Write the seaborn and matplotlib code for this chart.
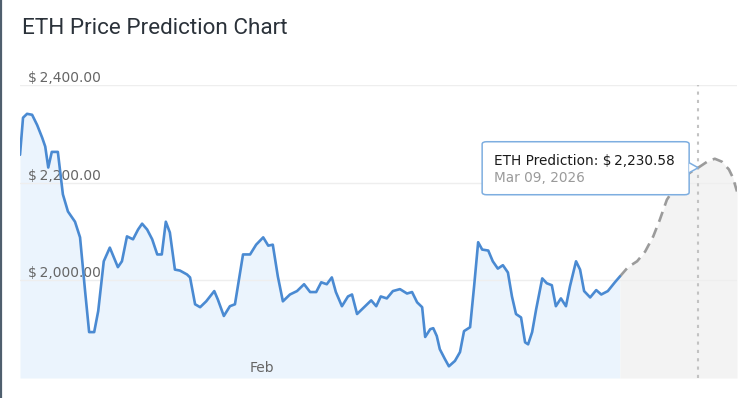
import matplotlib
matplotlib.use("Agg")
import matplotlib.pyplot as plt
import matplotlib.dates as mdates
from matplotlib.patches import FancyBboxPatch, Polygon
import pandas as pd
import seaborn as sns

# historical ETH price
hist_dates = [
    "2026-01-12 00:00", "2026-01-12 06:00", "2026-01-12 14:00", "2026-01-13 00:00",
    "2026-01-13 10:00", "2026-01-13 20:00", "2026-01-14 02:00", "2026-01-14 08:00",
    "2026-01-14 15:00", "2026-01-15 03:00", "2026-01-15 13:00", "2026-01-15 23:00",
    "2026-01-16 13:00", "2026-01-16 23:00", "2026-01-17 09:00", "2026-01-17 17:00",
    "2026-01-18 03:00", "2026-01-18 11:00", "2026-01-18 22:00", "2026-01-19 10:00",
    "2026-01-19 18:00", "2026-01-20 02:00", "2026-01-20 10:00", "2026-01-20 20:00",
    "2026-01-21 08:00", "2026-01-21 18:00", "2026-01-22 02:00", "2026-01-22 12:00",
    "2026-01-22 22:00", "2026-01-23 08:00", "2026-01-23 17:00", "2026-01-24 01:00",
    "2026-01-24 09:00", "2026-01-24 19:00", "2026-01-25 05:00", "2026-01-25 19:00",
    "2026-01-26 01:00", "2026-01-26 11:00", "2026-01-26 21:00", "2026-01-27 09:00",
    "2026-01-28 01:00", "2026-01-28 08:00", "2026-01-28 20:00", "2026-01-29 08:00",
    "2026-01-29 18:00", "2026-01-30 10:00", "2026-01-31 00:00", "2026-01-31 12:00",
    "2026-02-01 02:00", "2026-02-01 12:00", "2026-02-01 21:00", "2026-02-02 07:00",
    "2026-02-02 17:00", "2026-02-03 07:00", "2026-02-03 21:00", "2026-02-04 11:00",
    "2026-02-04 23:00", "2026-02-05 11:00", "2026-02-05 21:00", "2026-02-06 08:00",
    "2026-02-06 18:00", "2026-02-07 02:00", "2026-02-07 14:00", "2026-02-08 02:00",
    "2026-02-08 10:00", "2026-02-08 20:00", "2026-02-09 10:00", "2026-02-10 00:00",
    "2026-02-10 10:00", "2026-02-10 19:00", "2026-02-11 07:00", "2026-02-11 19:00",
    "2026-02-12 09:00", "2026-02-12 23:00", "2026-02-13 09:00", "2026-02-13 19:00",
    "2026-02-14 05:00", "2026-02-14 11:00", "2026-02-14 21:00", "2026-02-15 03:00",
    "2026-02-15 10:00", "2026-02-15 16:00", "2026-02-16 02:00", "2026-02-16 10:00",
    "2026-02-16 22:00", "2026-02-17 08:00", "2026-02-17 16:00", "2026-02-18 04:00",
    "2026-02-18 12:00", "2026-02-18 20:00", "2026-02-19 04:00", "2026-02-19 16:00",
    "2026-02-20 01:00", "2026-02-20 11:00", "2026-02-20 21:00", "2026-02-21 07:00",
    "2026-02-21 15:00", "2026-02-21 23:00", "2026-02-22 09:00", "2026-02-22 17:00",
    "2026-02-22 23:00", "2026-02-23 07:00", "2026-02-23 15:00", "2026-02-24 03:00",
    "2026-02-24 12:00", "2026-02-24 22:00", "2026-02-25 06:00", "2026-02-25 16:00",
    "2026-02-26 02:00", "2026-02-26 10:00", "2026-02-26 22:00", "2026-02-27 06:00",
    "2026-02-27 14:00", "2026-02-28 02:00", "2026-02-28 14:00", "2026-03-01 00:00",
    "2026-03-01 13:00", "2026-03-02 03:00", "2026-03-02 13:00",
]
hist_prices = [
    2257, 2333, 2341, 2339, 2318, 2292, 2274, 2231,
    2263, 2263, 2176, 2141, 2120, 2088, 1978, 1894,
    1894, 1937, 2039, 2067, 2047, 2027, 2039, 2090,
    2084, 2104, 2116, 2104, 2084, 2053, 2053, 2120,
    2098, 2022, 2020, 2012, 2006, 1951, 1945, 1957,
    1978, 1961, 1927, 1947, 1951, 2053, 2053, 2073,
    2088, 2071, 2073, 2008, 1957, 1971, 1978, 1992,
    1976, 1976, 1996, 1992, 2006, 1976, 1947, 1967,
    1971, 1931, 1945, 1959, 1947, 1967, 1963, 1978,
    1982, 1973, 1976, 1955, 1945, 1884, 1900, 1902,
    1886, 1859, 1839, 1824, 1835, 1853, 1896, 1904,
    1988, 2078, 2063, 2061, 2039, 2024, 2031, 2016,
    1967, 1931, 1924, 1873, 1869, 1894, 1941, 2004,
    1994, 1990, 1947, 1963, 1947, 1988, 2039, 2022,
    1978, 1965, 1980, 1971, 1978, 1996, 2008,
]

# forecast
fc_dates = [
    "2026-03-02 13:00", "2026-03-03 05:00", "2026-03-03 23:00", "2026-03-04 15:00",
    "2026-03-05 07:00", "2026-03-05 20:00", "2026-03-06 10:00", "2026-03-07 02:00",
    "2026-03-07 18:00", "2026-03-08 10:00", "2026-03-09 00:00", "2026-03-09 18:00",
    "2026-03-10 09:00", "2026-03-10 23:00", "2026-03-11 13:00", "2026-03-11 21:00",
    "2026-03-12 05:00",
]
fc_prices = [
    2008, 2027, 2039, 2059, 2090, 2124, 2165, 2190,
    2210, 2222, 2230.58, 2243, 2249, 2243, 2227, 2210,
    2182,
]

y_ticks = [2000, 2200, 2400]
x_ticks = ["2026-02-01"]
x_tick_labels = ["Feb"]
tip_date = "2026-03-09 00:00"
tip_price = 2230.58
tip_title = "ETH Prediction"
tip_label = "Mar 09, 2026"

hist = pd.DataFrame({"date": pd.to_datetime(hist_dates), "price": hist_prices})
fc = pd.DataFrame({"date": pd.to_datetime(fc_dates), "price": fc_prices})

sns.set_style("white")
plt.rcParams["font.family"] = ["DejaVu Sans"]

fig = plt.figure(figsize=(7.53, 3.98), dpi=100)
ax = fig.add_axes([20 / 753, 1 - 378 / 398, 717 / 753, 293 / 398])
ax.set_axisbelow(False)

y_min, y_max = 1800, 2400
ax.fill_between(hist["date"], hist["price"], y_min, color="#ebf4fd", lw=0, zorder=1)
ax.fill_between(fc["date"], fc["price"], y_min, color="#f3f3f3", lw=0, zorder=1)
sns.lineplot(data=hist, x="date", y="price", ax=ax, color="#4a8ad2", lw=1.9, zorder=4)
sns.lineplot(data=fc, x="date", y="price", ax=ax, color="#9b9b9b", lw=1.9,
             dashes=False, zorder=3)
ax.lines[-1].set_dashes((4, 2.5))

ax.axvline(pd.Timestamp(tip_date), color="#c2c2c2", ls=(0, (1.5, 2.5)), lw=1.5, zorder=2)

ax.set_xlim(hist["date"].iloc[0], fc["date"].iloc[-1])
ax.set_ylim(y_min, y_max)
for v in y_ticks:
    ax.axhline(v, color="#eeeeee", lw=1, zorder=1.2)

ax.set_yticks(y_ticks)
ax.set_yticklabels([f"$\u2009{v:,.2f}" for v in y_ticks])
ax.tick_params(axis="y", length=0, pad=-6, labelsize=10, labelcolor="#666666")
for lbl in ax.get_yticklabels():
    lbl.set_horizontalalignment("left")
    lbl.set_verticalalignment("bottom")

ax.set_xticks(pd.to_datetime(x_ticks))
ax.set_xticklabels(x_tick_labels)
ax.tick_params(axis="x", length=0, pad=-12, labelsize=10, labelcolor="#666666")
ax.set_xlabel("")
ax.set_ylabel("")
for s in ax.spines.values():
    s.set_visible(False)

fig.text(22 / 753, 1 - 28 / 398, "ETH Price Prediction Chart", family="Roboto",
         fontsize=16.2, color="#2b323a", va="center", ha="left")

# page edge on the left
fig.add_artist(plt.Line2D([0.0015, 0.0015], [0, 1], color="#4f5f6e", lw=1.6))

# tooltip box next to the prediction point
fig.canvas.draw()
px, py = ax.transData.transform((mdates.date2num(pd.Timestamp(tip_date)), tip_price))
inv = fig.transFigure.inverted()
(bx0, by0) = inv.transform((px - 216, py - 27))
(bx1, by1) = inv.transform((px - 9, py + 26))
box = FancyBboxPatch((bx0, by0), bx1 - bx0, by1 - by0, transform=fig.transFigure,
                     boxstyle="round,pad=0,rounding_size=0.006",
                     facecolor="white", edgecolor="#7eaee0", lw=1.1, zorder=10)
fig.add_artist(box)
tri = [inv.transform(p) for p in [(px - 9, py + 5), (px, py), (px - 9, py - 5)]]
fig.add_artist(Polygon(tri, closed=False, transform=fig.transFigure,
                       facecolor="white", edgecolor="#7eaee0", lw=1.1, zorder=11))
t1 = inv.transform((px - 204, py + 7))
t2 = inv.transform((px - 204, py - 10))
fig.text(t1[0], t1[1], f"{tip_title}: $\u2009{tip_price:,.2f}", fontsize=9.8,
         color="#1a1a1a", va="center", ha="left", zorder=12)
fig.text(t2[0], t2[1], tip_label, fontsize=9.8, color="#9a9a9a",
         va="center", ha="left", zorder=12)

fig.savefig("out.png", dpi=100)
plt.close(fig)
